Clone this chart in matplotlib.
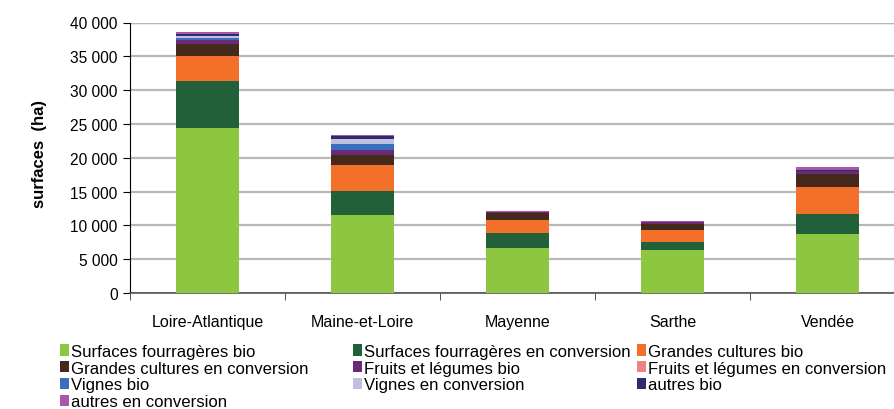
import numpy as np
import matplotlib.pyplot as plt
from matplotlib.patches import Patch

plt.rcParams['font.family'] = ['Liberation Sans', 'DejaVu Sans']

departements = ['Loire-Atlantique', 'Maine-et-Loire', 'Mayenne', 'Sarthe', 'Vendée']

# surfaces (ha) par type de production
surf_fourr_bio = [24400, 11600, 6700, 6400, 8700]
surf_fourr_conv = [6900, 3500, 2200, 1200, 3000]
gc_bio = [3800, 3900, 1900, 1700, 4000]
gc_conv = [1700, 1400, 1000, 900, 1900]
fl_bio = [600, 750, 200, 300, 400]
fl_conv = [30, 20, 10, 10, 20]
vignes_bio = [350, 900, 0, 0, 0]
vignes_conv = [150, 650, 0, 0, 0]
autres_bio = [350, 550, 40, 40, 200]
autres_conv = [300, 50, 40, 30, 400]

series = [
    ('Surfaces fourragères bio', surf_fourr_bio, '#8DC641'),
    ('Surfaces fourragères en conversion', surf_fourr_conv, '#22603A'),
    ('Grandes cultures bio', gc_bio, '#F3702B'),
    ('Grandes cultures en conversion', gc_conv, '#452A1C'),
    ('Fruits et légumes bio', fl_bio, '#6A2A78'),
    ('Fruits et légumes en conversion', fl_conv, '#F08283'),
    ('Vignes bio', vignes_bio, '#3A6DBE'),
    ('Vignes en conversion', vignes_conv, '#BFBFE0'),
    ('autres bio', autres_bio, '#2E2C6C'),
    ('autres en conversion', autres_conv, '#A957A6'),
]

fig = plt.figure(figsize=(8.95, 4.1), dpi=100)
ax = fig.add_axes([130 / 895, 116 / 410, 775 / 895, 270.5 / 410])

x = np.arange(len(departements))
bottom = np.zeros(len(departements))
handles = []
for label, vals, color in series:
    vals = np.array(vals, dtype=float)
    ax.bar(x, vals, 0.41, bottom=bottom, color=color, edgecolor='none', zorder=3)
    bottom += vals
    handles.append(Patch(facecolor=color, edgecolor='none', label=label))

ax.set_xlim(-0.5, 4.5)
ax.set_ylim(0, 40000)
ax.set_yticks(np.arange(0, 40001, 5000))
ax.set_yticklabels([f'{v:,}'.replace(',', ' ') for v in range(0, 40001, 5000)], fontsize=11.2)
ax.yaxis.grid(True, color='#B8B8B8', linewidth=1.6, zorder=0)
ax.axhline(40000, color='#888888', linewidth=1.6, zorder=1)

ax.set_xticks(x)
ax.set_xticklabels(departements, fontsize=11.5)
ax.tick_params(axis='x', length=0, pad=15)
ax.set_xticks(np.arange(-0.5, 5, 1), minor=True)
ax.tick_params(axis='x', which='minor', length=5, direction='out', color='#333333')
ax.tick_params(axis='y', length=5, direction='out', color='black', pad=4)

for s in ['top', 'right']:
    ax.spines[s].set_visible(False)
ax.spines['left'].set_color('black')
ax.spines['bottom'].set_color('#555555')
ax.spines['bottom'].set_linewidth(1.2)

fig.text(40 / 895, (410 - 154) / 410, 'surfaces  (ha)', rotation=90, fontsize=12,
         fontweight='bold', ha='center', va='center')

# legende en trois colonnes, remplie par lignes
cols = [handles[0::3], handles[1::3], handles[2::3]]
col_x = [60, 353, 637]
for hs, cx in zip(cols, col_x):
    leg = fig.legend(handles=hs, loc='upper left', bbox_to_anchor=(cx / 895, 1 - 345 / 410),
                     frameon=False, fontsize=12.1, handlelength=0.55, handleheight=0.65,
                     handletextpad=0.12, labelspacing=0.1, borderpad=0, borderaxespad=0)

fig.savefig('out.png', dpi=100)
